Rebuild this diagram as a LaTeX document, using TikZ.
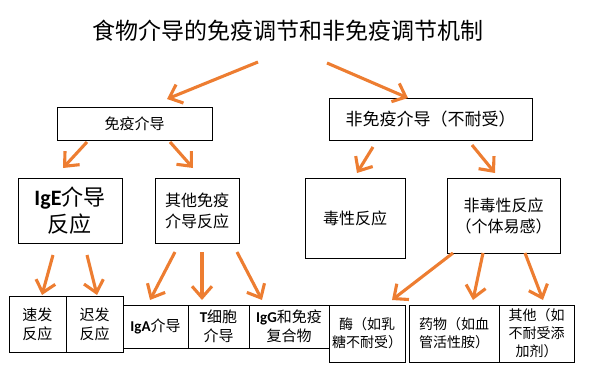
\documentclass[tikz,border=0pt]{standalone}
\usepackage{fontspec}
\setmainfont{Noto Sans CJK SC}
\newfontfamily\calibri{Carlito}
\usepackage{tikz}
\usetikzlibrary{positioning,arrows.meta,calc}
\definecolor{arroworange}{HTML}{ED7D31}
\newcommand{\lat}[1]{{\calibri\bfseries #1}}
\tikzset{
box/.style={
draw,
line width=0.8pt,
inner sep=1pt,
outer sep=0pt,
align=center,
font=\fontsize{15}{19}\selectfont
},
arrow/.style={
-{Straight Barb[length=4mm,width=7mm]},
line width=3.1pt,
color=arroworange
}
}
\begin{document}
\begin{tikzpicture}[x=1pt,y=-1pt]
\useasboundingbox (0,0) rectangle (590,380);
\node[font=\fontsize{23}{26}\selectfont](title) at (288,31){食物介导的免疫调节和非免疫调节机制};
% second level
\node[box,minimum width=155,minimum height=33](immune) at (134.5,123.5){免疫介导};
\node[box,minimum width=203,minimum height=42,font=\fontsize{17}{19}\selectfont](nonimm) at (430.5,119){非免疫介导（不耐受）};
% third level
\node[box,minimum width=104,minimum height=65,font=\fontsize{22}{27}\selectfont](ige) at (70,210.5){\lat{IgE}介导\\反应};
\node[box,minimum width=84,minimum height=65,font=\fontsize{16}{21}\selectfont](otherimm) at (197,210.5){其他免疫\\介导反应};
\node[box,minimum width=100,minimum height=80,font=\fontsize{16}{20}\selectfont](toxic) at (355,218){毒性反应};
\node[box,minimum width=113,minimum height=75,font=\fontsize{16}{21}\selectfont](nontoxic) at (503.5,215.5){非毒性反应\\（个体易感）};
% bottom row
\node[box,minimum width=57,minimum height=56](fast) at (37.5,324){速发\\反应};
\node[box,minimum width=57,minimum height=56,right=0pt of fast](delayed){迟发\\反应};
\node[box,minimum width=65,minimum height=43,anchor=north west](iga) at (123,305){\lat{IgA}介导};
\node[box,minimum width=61,minimum height=43,right=0pt of iga](tcell){\lat{T}细胞\\介导};
\node[box,minimum width=80,minimum height=43,right=0pt of tcell](igg){\lat{IgG}和免疫\\复合物};
\node[box,minimum width=76,minimum height=57,anchor=north west,font=\fontsize{14}{18}\selectfont](enzyme) at (igg.north east){酶（如乳\\糖不耐受）};
\node[box,minimum width=90,minimum height=57,right=4pt of enzyme,font=\fontsize{14}{18}\selectfont](drug){药物（如血\\管活性胺）};
\node[box,minimum width=75,minimum height=57,right=0pt of drug,font=\fontsize{14}{18}\selectfont](additive){其他（如\\不耐受添\\加剂）};

\draw[arrow]($(title)+(-30,31)$)--($(immune.north)+(32.5,-8)$);
\draw[arrow]($(title)+(39,32)$)--($(nonimm.north)+(-22.5,0)$);
\draw[arrow]($(immune.south)+(-47.5,2)$)--($(ige.north)+(-7,-10)$);
\draw[arrow]($(immune.south)+(35.5,2)$)--($(otherimm.north)+(-4,-10)$);
\draw[arrow]($(nonimm.south)+(-57.5,7)$)--($(toxic.north)+(2,-5)$);
\draw[arrow]($(nonimm.south)+(41.5,5)$)--($(nontoxic.north)+(-8.5,-5)$);
\draw[arrow]($(ige.south)+(-17,12)$)--($(fast.north)+(4.5,-1)$);
\draw[arrow]($(ige.south)+(17,12)$)--($(delayed.north)+(2.5,-1)$);
\draw[arrow]($(otherimm.south)+(-22,9)$)--($(iga.north)+(-5.5,-5)$);
\draw[arrow]($(otherimm.south)+(5,9)$)--($(tcell.north)+(-16.5,-5)$);
\draw[arrow]($(otherimm.south)+(40,9)$)--($(igg.north)+(-27,-5)$);
\draw[arrow]($(nontoxic.south)+(-50.5,0)$)--($(enzyme.north)+(25,-5)$);
\draw[arrow]($(nontoxic.south)+(-20.5,0)$)--($(drug.north)+(19,-5)$);
\draw[arrow]($(nontoxic.south)+(21.5,0)$)--($(additive.north)+(6.5,-5)$);
\end{tikzpicture}
\end{document}
